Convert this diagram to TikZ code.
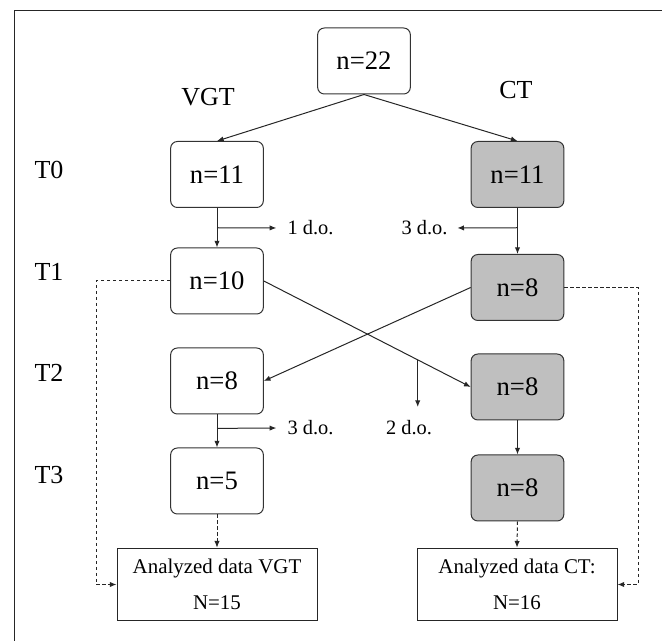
\documentclass[tikz,border=0pt]{standalone}
\usepackage{fontspec}
\setmainfont{Liberation Serif}
\usetikzlibrary{arrows.meta,calc}
\begin{document}
\begin{tikzpicture}[x=0.75pt,y=-0.75pt,
  line width=0.75pt,
  stage/.style={draw=black!80, rounded corners=5pt, minimum width=69.5pt,
    minimum height=49.5pt, inner sep=0pt, font=\fontsize{20}{24}\selectfont},
  ctstage/.style={stage, fill=black!25},
  result/.style={draw=black!85, minimum width=150pt, minimum height=54.5pt,
    inner sep=0pt, align=center, font=\fontsize{15.7}{27}\selectfont},
  grouplab/.style={font=\fontsize{19.5}{23}\selectfont, inner sep=0pt},
  dolab/.style={font=\fontsize{15.3}{18}\selectfont, inner sep=0pt},
  arr/.style={-{Latex[length=5pt,width=4pt]}, draw=black!85},
  darr/.style={arr, dash pattern=on 2.5pt off 2pt}
]
\useasboundingbox (0,0) rectangle (662,641);

% outer frame (top and left edges)
\draw[black!85] (14,641) -- (14,11) -- (662,11);

% group and time labels
\node[grouplab] (vgt) at (208,97) {VGT};
\node[grouplab] (ct)  at (516,90) {CT};
\node[grouplab] (t0) at (49,170) {T0};
\node[grouplab] (t1) at (49,272) {T1};
\node[grouplab] (t2) at (49,373) {T2};
\node[grouplab] (t3) at (49,475) {T3};

% stages
\node[stage] (all) at (364,61) {n=22};
\node[stage] (v0) at (217,174.5) {n=11};
\node[stage] (v1) at (217,281) {n=10};
\node[stage] (v2) at (217,381) {n=8};
\node[stage] (v3) at (217,481) {n=5};
\node[ctstage] (c0) at (517.5,174.5) {n=11};
\node[ctstage] (c1) at (517.5,287.5) {n=8};
\node[ctstage] (c2) at (517.5,387) {n=8};
\node[ctstage] (c3) at (517.5,488) {n=8};

% analysed data
\node[result] (av) at (217,584.5) {Analyzed data VGT\\N=15};
\node[result] (ac) at (517,584.5) {Analyzed data CT:\\N=16};

% randomisation
\draw[arr] (all.south) -- (v0.north);
\draw[arr] (all.south) -- (c0.north);

% T0 -> T1 with drop-outs
\draw[arr] (v0.south) -- (v1.north);
\draw[arr] (c0.south) -- (c1.north);
\coordinate (m1) at ($(v0.south)!0.5!(v1.north)$);
\coordinate (m2) at (c0.south |- m1);
\node[dolab, anchor=west] (do1) at (287,228) {1 d.o.};
\node[dolab, anchor=east] (do2) at (448,228) {3 d.o.};
\draw[arr, shorten >=8pt] (m1) -- (do1.west);
\draw[arr, shorten >=7pt] (m2) -- (do2.east);

% crossover T1 -> T2
\draw[arr] (v1.east) -- (c2.west);
\draw[arr] (c1.west) -- (v2.east);
\coordinate (m3) at ($(v1.east)!0.744!(c2.west)$);
\node[dolab] (do3) at (409,428) {2 d.o.};
\draw[arr] (m3) -- (m3 |- 0,407);

% T2 -> T3 with drop-outs
\draw[arr] (v2.south) -- (v3.north);
\draw[arr] (c2.south) -- (c3.north);
\coordinate (m4) at ($(v2.south)!0.42!(v3.north)$);
\node[dolab, anchor=west] (do4) at (287,428) {3 d.o.};
\draw[arr, shorten >=8pt] (m4) -- (do4.west);

% into the analysed data
\draw[darr] (v3.south) -- (av.north);
\draw[darr] (c3.south) -- (ac.north);
\draw[darr] (v1.west) -- (96,281) |- (av.west);
\draw[darr] (c1.east) -- (638,287.5) |- (ac.east);
\end{tikzpicture}
\end{document}
